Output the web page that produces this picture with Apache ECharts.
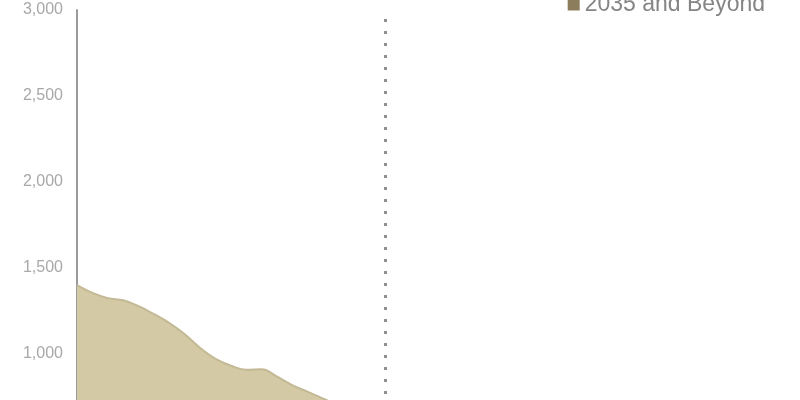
<!DOCTYPE html>
<html>
<head>
<meta charset="utf-8">
<script src="https://cdn.jsdelivr.net/npm/echarts@6/dist/echarts.min.js"></script>
<style>html,body{margin:0;padding:0;background:#fff;overflow:hidden;width:800px;height:400px;}#c{width:800px;height:546px;margin-top:-10px;}</style>
</head>
<body>
<div id="c"></div>
<script>
// Years (x) and values (y)
var years = [2015,2016,2017,2018,2019,2020,2021,2022,2023,2024,2025,2026,2027,2028,2029,2030,2031,2032,2033,2034,2035];
var existingValues = [1400,1355,1325,1312,1278,1232,1180,1115,1035,972,932,908,912,868,818,780,740,700,660,625,590];
var beyondYears = [2035,2040,2045,2050,2055,2060];
var beyondValues = [590,520,460,410,370,340];
var yTicks = [0,500,1000,1500,2000,2500,3000];
var markerYear = 2035;

var chart = echarts.init(document.getElementById('c'));
chart.setOption({
  animation: false,
  grid: {left: 77, right: 30, top: 20, bottom: 10, outerBoundsMode: 'none'},
  legend: {
    right: 35, top: 3, padding: 0,
    itemWidth: 12, itemHeight: 12, itemGap: 10,
    data: [{name: '2035 and Beyond', icon: 'rect'}],
    textStyle: {color: '#858585', fontSize: 23, fontFamily: 'Liberation Sans'}
  },
  xAxis: {
    type: 'value', min: 2015, max: 2060,
    axisLine: {show: false}, axisTick: {show: false}, axisLabel: {show: false}, splitLine: {show: false}
  },
  yAxis: {
    type: 'value', min: yTicks[0], max: yTicks[yTicks.length-1], interval: 500,
    axisLine: {show: true, lineStyle: {color: '#9a9a9a', width: 2}},
    axisTick: {show: false},
    splitLine: {show: false},
    axisLabel: {
      color: '#a8a8a8', fontSize: 16, fontFamily: 'Liberation Sans', margin: 14,
      formatter: function(v){ return v.toLocaleString('en-US'); }
    }
  },
  series: [
    {
      name: 'Existing',
      type: 'line',
      smooth: 0.4,
      symbol: 'none',
      data: years.map(function(y,i){ return [y, existingValues[i]]; }),
      lineStyle: {color: '#c4b995', width: 2},
      areaStyle: {color: '#d3c9a5', opacity: 1},
      markLine: {
        silent: true, symbol: 'none', label: {show: false},
        lineStyle: {color: '#8f8f8f', type: [3, 9], width: 3},
        data: [{xAxis: markerYear}]
      },
      z: 2
    },
    {
      name: '2035 and Beyond',
      type: 'line',
      smooth: true,
      symbol: 'none',
      itemStyle: {color: '#8c7e5c'},
      data: beyondYears.map(function(y,i){ return [y, beyondValues[i]]; }),
      lineStyle: {color: '#8c7e5c', width: 1},
      areaStyle: {color: '#8c7e5c', opacity: 1},
      z: 1
    }
  ]
});
</script>
</body>
</html>
